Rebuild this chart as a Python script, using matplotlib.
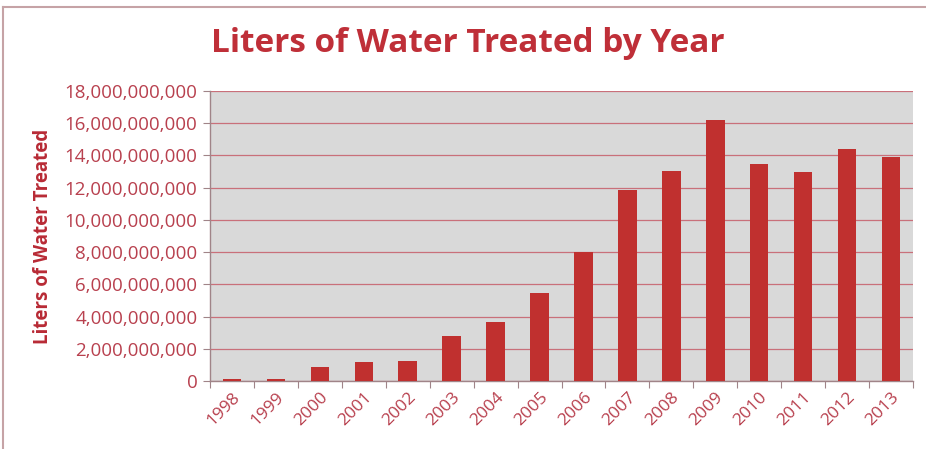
import matplotlib
matplotlib.use("Agg")
import matplotlib.pyplot as plt
from matplotlib.ticker import FuncFormatter, MultipleLocator
from matplotlib.lines import Line2D

years = ["1998", "1999", "2000", "2001", "2002", "2003", "2004", "2005",
         "2006", "2007", "2008", "2009", "2010", "2011", "2012", "2013"]
liters = [0.15e9, 0.12e9, 0.85e9, 1.16e9, 1.24e9, 2.8e9, 3.67e9, 5.47e9,
          8.0e9, 11.83e9, 13.06e9, 16.2e9, 13.46e9, 12.96e9, 14.43e9, 13.93e9]

plt.rcParams['font.family'] = ['Open Sans', 'DejaVu Sans']

W, H = 926, 449
fig = plt.figure(figsize=(W / 100, H / 100), dpi=100)
fig.patch.set_facecolor("white")

ax = fig.add_axes([210 / W, 1 - 381 / H, (913 - 210) / W, (381 - 91) / H])
ax.set_facecolor("#d9d9d9")

x = list(range(len(years)))
ax.bar(x, liters, width=0.42, color="#c0302f", zorder=3)

ax.set_xlim(-0.5, len(years) - 0.5)
ax.set_ylim(0, 18e9)
ax.yaxis.set_major_locator(MultipleLocator(2e9))
ax.yaxis.set_major_formatter(FuncFormatter(lambda v, p: f"{int(round(v)):,}"))
ax.grid(axis="y", color="#c9707a", linewidth=0.9, zorder=1)

ax.set_xticks([i - 0.5 for i in range(len(years) + 1)], minor=False)
ax.set_xticklabels([])
ax.set_xticks(x, minor=True)
ax.set_xticklabels(years, minor=True, rotation=45, ha="right", va="top",
                   rotation_mode="anchor", color="#b8404e", fontsize=12.5)
ax.tick_params(axis="x", which="minor", length=0, pad=6)
ax.tick_params(axis="x", which="major", length=5, color="#a08488", direction="out")
ax.tick_params(axis="y", length=5, color="#a08488", labelcolor="#b8404e",
               labelsize=13.5, pad=4)

for s in ["top", "right"]:
    ax.spines[s].set_visible(False)
for s in ["left", "bottom"]:
    ax.spines[s].set_color("#a08488")
    ax.spines[s].set_linewidth(1.0)

ax.set_ylabel("Liters of Water Treated", fontsize=13.5, fontweight="bold",
              color="#b82a35")
ax.yaxis.set_label_coords(-0.223, 0.5)

fig.text(468 / W, 1 - 44 / H, "Liters of Water Treated by Year",
         ha="center", va="center", fontsize=24, fontweight="bold",
         color="#bf2f38")

# outer chart frame (top and left edges visible)
fig.add_artist(Line2D([3 / W, 1.0], [1 - 7 / H, 1 - 7 / H], color="#c6a3a6",
                      linewidth=1.5, transform=fig.transFigure))
fig.add_artist(Line2D([3 / W, 3 / W], [0.0, 1 - 7 / H], color="#c6a3a6",
                      linewidth=1.5, transform=fig.transFigure))

fig.savefig("out.png", dpi=100)
